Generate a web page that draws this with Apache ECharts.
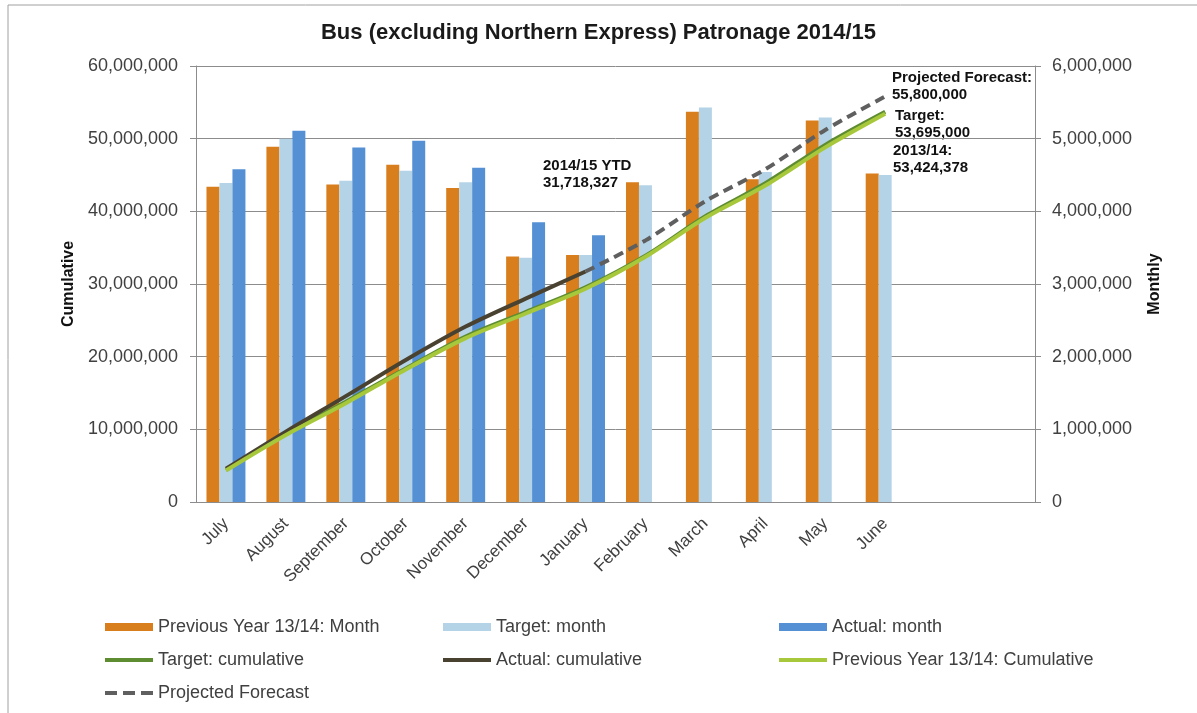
<!DOCTYPE html>
<html lang="en">

<head>
    <meta charset="UTF-8">
    <title>Bus Patronage 2014/15</title>
    <script src="https://cdn.jsdelivr.net/npm/echarts@6/dist/echarts.min.js"></script>
    <style>
        body,
        html {
            padding: 0;
            margin: 0;
            background: #fff;
        }
    </style>
</head>

<body>
    <div style="width:1197px;height:713px;" id='chart'></div>
    <script>
        // categories (two empty slots at the end, as in the workbook)
        var months = ['July', 'August', 'September', 'October', 'November', 'December',
            'January', 'February', 'March', 'April', 'May', 'June', '', ''];

        // monthly bars (right axis)
        var prevMonth = [4340000, 4890000, 4370000, 4640000, 4320000, 3380000,
            3400000, 4400000, 5370000, 4440000, 5250000, 4520000];
        var targetMonth = [4390000, 5000000, 4420000, 4560000, 4400000, 3360000,
            3400000, 4360000, 5430000, 4540000, 5290000, 4500000];
        var actualMonth = [4580000, 5110000, 4880000, 4970000, 4600000, 3850000, 3670000];

        // cumulative lines (left axis)
        var targetCum = [4390000, 9390000, 13810000, 18370000, 22770000, 26130000,
            29530000, 33890000, 39320000, 43860000, 49150000, 53695000];
        var actualCum = [4580000, 9690000, 14570000, 19540000, 24140000, 27990000, 31718327];
        var prevCum = [4340000, 9230000, 13600000, 18240000, 22560000, 25940000,
            29340000, 33740000, 39110000, 43550000, 48800000, 53424378];
        var forecast = [null, null, null, null, null, null,
            31718327, 36000000, 41400000, 45800000, 51200000, 55800000];

        function commas(v) {
            return String(v).replace(/\B(?=(\d{3})+(?!\d))/g, ',');
        }

        var font = 'Liberation Sans, Arial, sans-serif';
        var gridColor = '#8c8c8c';
        var labelColor = '#404040';

        // legend icons: thick bar for columns, thinner bar / dashes for lines
        var barIcon = 'path://M0,0H48V8H0Z';
        var lineIcon = 'path://M0,0M48,8M0,2H48V6H0Z';
        var dashIcon = 'path://M0,0M48,8M0,2H12V6H0Z M18,2H30V6H18Z M36,2H48V6H36Z';

        var dom = document.getElementById('chart');
        var myChart = echarts.init(dom);

        var legendText = { fontFamily: font, fontSize: 18, color: labelColor };

        function legendCol(left, items) {
            return {
                orient: 'vertical', left: left, top: 613, itemGap: 15,
                itemWidth: 48, itemHeight: 8, textStyle: legendText,
                data: items
            };
        }

        myChart.setOption({
            animation: false,
            title: {
                text: 'Bus (excluding Northern Express) Patronage 2014/15',
                left: 'center',
                top: 17,
                textStyle: { fontFamily: font, fontSize: 22, fontWeight: 'bold', color: '#1a1a1a' }
            },
            grid: { left: 196, right: 162, top: 66, bottom: 211 },
            legend: [
                legendCol(100, [
                    { name: 'Previous Year 13/14: Month', icon: barIcon },
                    { name: 'Target: cumulative', icon: lineIcon },
                    { name: 'Projected Forecast', icon: dashIcon }
                ]),
                legendCol(438, [
                    { name: 'Target: month', icon: barIcon },
                    { name: 'Actual: cumulative', icon: lineIcon }
                ]),
                legendCol(774, [
                    { name: 'Actual: month', icon: barIcon },
                    { name: 'Previous Year 13/14: Cumulative', icon: lineIcon }
                ])
            ],
            xAxis: {
                type: 'category',
                data: months,
                axisLine: { lineStyle: { color: gridColor } },
                axisTick: { length: 6, lineStyle: { color: gridColor } },
                axisLabel: {
                    rotate: 45, margin: 19, interval: 0,
                    fontFamily: font, fontSize: 17, color: labelColor
                }
            },
            yAxis: [{
                type: 'value',
                min: 0, max: 60000000, interval: 10000000,
                name: 'Cumulative',
                nameLocation: 'middle',
                nameRotate: 90,
                nameGap: 117,
                nameTextStyle: { fontFamily: font, fontSize: 16, fontWeight: 'bold', color: '#111' },
                axisLine: { show: true, lineStyle: { color: gridColor } },
                axisTick: { show: true, length: 6, lineStyle: { color: gridColor } },
                splitLine: { lineStyle: { color: gridColor } },
                axisLabel: {
                    margin: 18, fontFamily: font, fontSize: 18, color: labelColor,
                    formatter: commas
                }
            }, {
                type: 'value',
                position: 'right',
                min: 0, max: 6000000, interval: 1000000,
                name: 'Monthly',
                nameLocation: 'middle',
                nameRotate: 90,
                nameGap: 112,
                nameTextStyle: { fontFamily: font, fontSize: 16, fontWeight: 'bold', color: '#111' },
                axisLine: { show: true, lineStyle: { color: gridColor } },
                axisTick: { show: true, length: 6, lineStyle: { color: gridColor } },
                splitLine: { show: false },
                axisLabel: {
                    margin: 17, fontFamily: font, fontSize: 18, color: labelColor,
                    formatter: commas
                }
            }],
            series: [{
                name: 'Previous Year 13/14: Month',
                type: 'bar', yAxisIndex: 1,
                barGap: '0%', barCategoryGap: '35%',
                itemStyle: { color: '#d97e1c' },
                data: prevMonth
            }, {
                name: 'Target: month',
                type: 'bar', yAxisIndex: 1,
                itemStyle: { color: '#b4d3e6' },
                data: targetMonth
            }, {
                name: 'Actual: month',
                type: 'bar', yAxisIndex: 1,
                itemStyle: { color: '#5590d5' },
                data: actualMonth
            }, {
                name: 'Target: cumulative',
                type: 'line', yAxisIndex: 0,
                smooth: 0.3, symbol: 'none',
                lineStyle: { color: '#5e8c31', width: 4 },
                itemStyle: { color: '#5e8c31' },
                data: targetCum
            }, {
                name: 'Actual: cumulative',
                type: 'line', yAxisIndex: 0,
                smooth: 0.3, symbol: 'none',
                lineStyle: { color: '#4a4230', width: 4 },
                itemStyle: { color: '#4a4230' },
                data: actualCum
            }, {
                name: 'Previous Year 13/14: Cumulative',
                type: 'line', yAxisIndex: 0,
                smooth: 0.3, symbol: 'none',
                lineStyle: { color: '#a8c83c', width: 4 },
                itemStyle: { color: '#a8c83c' },
                data: prevCum
            }, {
                name: 'Projected Forecast',
                type: 'line', yAxisIndex: 0,
                smooth: 0.3, symbol: 'none',
                lineStyle: { color: '#5f5f5f', width: 4, type: [10, 6] },
                itemStyle: { color: '#5f5f5f' },
                data: forecast
            }],
            graphic: [{
                type: 'rect',
                shape: { x: 8, y: 5, width: 1200, height: 720 },
                style: { fill: 'none', stroke: '#a0a0a0', lineWidth: 1 },
                silent: true
            }, {
                type: 'text', left: 543, top: 157,
                style: { text: '2014/15 YTD\n' + commas(31718327), font: 'bold 15px ' + font, fill: '#111', lineHeight: 17 }
            }, {
                type: 'text', left: 892, top: 69,
                style: { text: 'Projected Forecast:\n' + commas(55800000), font: 'bold 15px ' + font, fill: '#111', lineHeight: 17 }
            }, {
                type: 'text', left: 895, top: 107,
                style: { text: 'Target:\n' + commas(53695000), font: 'bold 15px ' + font, fill: '#111', lineHeight: 17 }
            }, {
                type: 'text', left: 893, top: 142,
                style: { text: '2013/14:\n' + commas(53424378), font: 'bold 15px ' + font, fill: '#111', lineHeight: 17 }
            }]
        });
    </script>
</body>

</html>
